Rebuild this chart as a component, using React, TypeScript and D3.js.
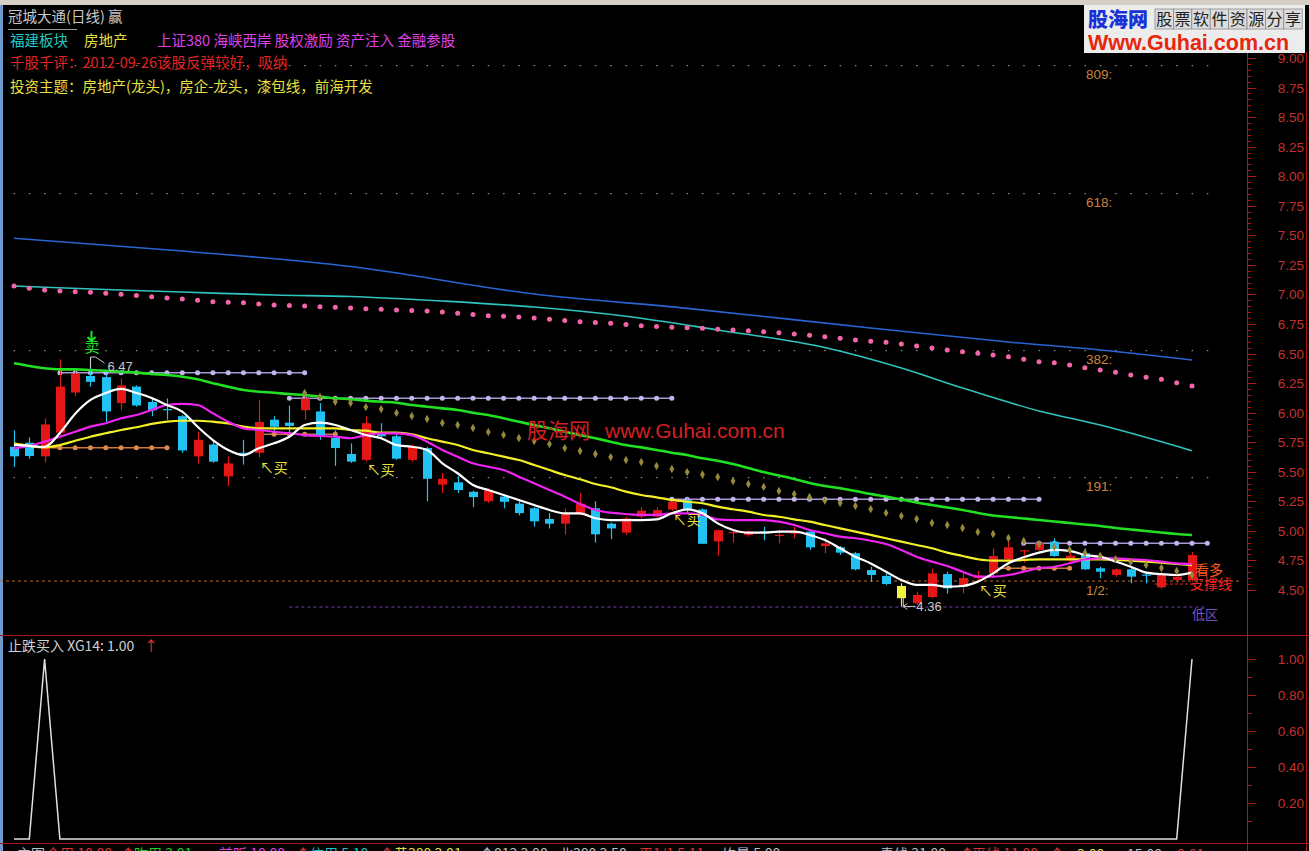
import { scaleLinear, line, curveMonotoneX, range, symbol, symbolDiamond } from "d3";

// daily candles, oldest first
const candleOpen = [5.71, 5.745, 5.63, 5.83, 6.17, 6.31, 6.30, 6.08, 6.22, 6.09, 6.03, 5.97, 5.63, 5.73, 5.46, 5.66, 5.66, 5.94, 5.915, 6.02, 6.01, 5.785, 5.65, 5.60, 5.825, 5.80, 5.60, 5.70, 5.39, 5.41, 5.33, 5.25, 5.29, 5.23, 5.19, 5.10, 5.06, 5.15, 5.19, 5.06, 4.985, 5.12, 5.12, 5.18, 5.26, 5.18, 4.91, 4.98, 4.965, 4.995, 4.96, 4.975, 4.993, 4.871, 4.86, 4.81, 4.668, 4.618, 4.533, 4.387, 4.44, 4.634, 4.527, 4.60, 4.64, 4.76, 4.83, 4.838, 4.908, 4.75, 4.81, 4.683, 4.626, 4.674, 4.63, 4.522, 4.584, 4.584];
const candleHigh = [5.85, 5.79, 5.95, 6.45, 6.35, 6.47, 6.33, 6.29, 6.23, 6.12, 6.12, 5.98, 5.84, 5.77, 5.63, 5.77, 6.11, 5.97, 6.06, 6.18, 6.08, 5.85, 5.74, 5.97, 5.91, 5.825, 5.73, 5.71, 5.49, 5.46, 5.34, 5.36, 5.30, 5.25, 5.20, 5.15, 5.19, 5.32, 5.25, 5.07, 5.12, 5.20, 5.20, 5.25, 5.28, 5.19, 5.01, 5.013, 5.00, 5.035, 5.007, 5.035, 5.00, 4.937, 4.87, 4.82, 4.696, 4.64, 4.556, 4.485, 4.68, 4.654, 4.64, 4.66, 4.85, 4.908, 4.838, 4.90, 4.937, 4.83, 4.85, 4.696, 4.68, 4.70, 4.654, 4.65, 4.63, 4.82];
const candleLow = [5.54, 5.61, 5.58, 5.81, 6.14, 6.22, 5.92, 6.02, 6.05, 5.97, 5.94, 5.66, 5.57, 5.576, 5.38, 5.56, 5.62, 5.83, 5.80, 5.94, 5.77, 5.55, 5.575, 5.585, 5.774, 5.60, 5.585, 5.25, 5.32, 5.32, 5.20, 5.235, 5.19, 5.13, 5.035, 5.02, 4.97, 5.13, 4.90, 4.93, 4.965, 5.105, 5.11, 5.17, 5.15, 4.89, 4.79, 4.90, 4.95, 4.92, 4.894, 4.937, 4.838, 4.81, 4.795, 4.665, 4.57, 4.54, 4.36, 4.372, 4.43, 4.47, 4.47, 4.58, 4.61, 4.74, 4.73, 4.83, 4.78, 4.73, 4.67, 4.598, 4.61, 4.556, 4.556, 4.51, 4.56, 4.57];
const candleClose = [5.63, 5.633, 5.90, 6.22, 6.33, 6.26, 6.01, 6.23, 6.06, 6.02, 6.02, 5.68, 5.77, 5.585, 5.57, 5.65, 5.92, 5.88, 5.887, 6.12, 5.80, 5.70, 5.585, 5.91, 5.80, 5.61, 5.71, 5.44, 5.44, 5.345, 5.285, 5.345, 5.245, 5.15, 5.08, 5.06, 5.15, 5.23, 4.97, 5.02, 5.105, 5.17, 5.175, 5.245, 5.175, 4.89, 5.005, 4.99, 4.993, 4.99, 4.966, 4.985, 4.86, 4.894, 4.815, 4.674, 4.626, 4.55, 4.43, 4.457, 4.64, 4.513, 4.60, 4.62, 4.787, 4.86, 4.835, 4.894, 4.787, 4.79, 4.674, 4.654, 4.674, 4.612, 4.626, 4.626, 4.612, 4.795];
const yellowCandle = 58;

// moving average lines, one value per candle
const whiteMA = [5.726, 5.718, 5.71, 5.827, 5.99, 6.107, 6.166, 6.20, 6.166, 6.124, 6.064, 6.008, 5.88, 5.768, 5.684, 5.641, 5.698, 5.74, 5.796, 5.895, 5.915, 5.895, 5.853, 5.81, 5.783, 5.726, 5.711, 5.684, 5.571, 5.487, 5.388, 5.345, 5.303, 5.261, 5.218, 5.176, 5.148, 5.148, 5.106, 5.091, 5.091, 5.091, 5.097, 5.148, 5.182, 5.148, 5.063, 5.007, 4.984, 4.984, 4.993, 4.993, 4.965, 4.922, 4.852, 4.781, 4.724, 4.654, 4.584, 4.542, 4.542, 4.527, 4.533, 4.57, 4.64, 4.725, 4.776, 4.815, 4.838, 4.83, 4.795, 4.781, 4.74, 4.696, 4.646, 4.634, 4.626, 4.646];
const magentaMA = [5.698, 5.718, 5.754, 5.796, 5.838, 5.881, 5.91, 5.952, 5.98, 6.022, 6.064, 6.073, 6.064, 5.994, 5.923, 5.867, 5.853, 5.838, 5.825, 5.81, 5.802, 5.796, 5.783, 5.81, 5.825, 5.825, 5.81, 5.754, 5.684, 5.627, 5.571, 5.542, 5.514, 5.458, 5.402, 5.345, 5.289, 5.227, 5.176, 5.153, 5.142, 5.134, 5.134, 5.148, 5.148, 5.134, 5.097, 5.091, 5.091, 5.091, 5.077, 5.049, 5.007, 4.979, 4.95, 4.937, 4.916, 4.888, 4.838, 4.781, 4.739, 4.702, 4.654, 4.612, 4.612, 4.626, 4.654, 4.683, 4.696, 4.725, 4.759, 4.767, 4.767, 4.759, 4.753, 4.739, 4.725, 4.719];
const yellowMA = [5.74, 5.718, 5.706, 5.726, 5.762, 5.796, 5.825, 5.853, 5.876, 5.904, 5.923, 5.931, 5.931, 5.923, 5.909, 5.881, 5.867, 5.867, 5.867, 5.867, 5.867, 5.867, 5.853, 5.847, 5.83, 5.83, 5.816, 5.783, 5.754, 5.726, 5.684, 5.656, 5.627, 5.599, 5.557, 5.514, 5.472, 5.436, 5.396, 5.368, 5.331, 5.303, 5.283, 5.261, 5.246, 5.233, 5.204, 5.182, 5.162, 5.134, 5.119, 5.097, 5.077, 5.049, 5.021, 4.993, 4.965, 4.937, 4.908, 4.88, 4.852, 4.815, 4.787, 4.759, 4.747, 4.747, 4.753, 4.759, 4.759, 4.759, 4.759, 4.759, 4.753, 4.747, 4.739, 4.73, 4.719, 4.71];
const greenMA = [6.417, 6.394, 6.375, 6.366, 6.366, 6.36, 6.354, 6.346, 6.338, 6.327, 6.318, 6.304, 6.282, 6.248, 6.219, 6.191, 6.177, 6.168, 6.157, 6.149, 6.135, 6.121, 6.113, 6.101, 6.092, 6.084, 6.064, 6.05, 6.036, 6.022, 5.999, 5.98, 5.952, 5.923, 5.895, 5.867, 5.838, 5.81, 5.783, 5.754, 5.726, 5.706, 5.684, 5.661, 5.641, 5.613, 5.593, 5.565, 5.531, 5.497, 5.468, 5.438, 5.404, 5.379, 5.36, 5.337, 5.311, 5.289, 5.265, 5.24, 5.218, 5.197, 5.176, 5.151, 5.129, 5.117, 5.104, 5.091, 5.079, 5.066, 5.053, 5.041, 5.024, 5.011, 4.998, 4.986, 4.973, 4.964];
const pinkDots = [7.071, 7.052, 7.037, 7.029, 7.023, 7.018, 7.009, 7.001, 6.991, 6.981, 6.970, 6.961, 6.950, 6.938, 6.934, 6.930, 6.919, 6.910, 6.906, 6.902, 6.896, 6.891, 6.885, 6.879, 6.874, 6.868, 6.864, 6.860, 6.851, 6.840, 6.830, 6.820, 6.815, 6.809, 6.800, 6.789, 6.779, 6.769, 6.762, 6.756, 6.745, 6.735, 6.728, 6.722, 6.717, 6.713, 6.706, 6.699, 6.692, 6.684, 6.675, 6.665, 6.654, 6.642, 6.629, 6.614, 6.604, 6.595, 6.580, 6.563, 6.547, 6.530, 6.515, 6.502, 6.487, 6.473, 6.451, 6.431, 6.422, 6.403, 6.380, 6.360, 6.341, 6.318, 6.299, 6.282, 6.253, 6.225];
const goldStart = 19;
const goldDots = [6.166, 6.132, 6.092, 6.081, 6.047, 6.03, 5.997, 5.971, 5.946, 5.912, 5.895, 5.87, 5.836, 5.811, 5.785, 5.76, 5.734, 5.70, 5.675, 5.65, 5.624, 5.599, 5.582, 5.548, 5.523, 5.497, 5.476, 5.455, 5.421, 5.396, 5.371, 5.337, 5.311, 5.286, 5.256, 5.235, 5.21, 5.184, 5.151, 5.125, 5.10, 5.066, 5.049, 5.024, 4.99, 4.973, 4.939, 4.914, 4.888, 4.863, 4.838, 4.812, 4.787, 4.761, 4.736, 4.711, 4.685, 4.66, 4.626];

// long averages read at a few candles
const blueIdx = [0, 11, 22, 34, 44, 56, 65, 71, 77];
const blueVal = [7.475, 7.367, 7.236, 7.003, 6.882, 6.716, 6.597, 6.53, 6.445];
const cyanIdx = [0, 6, 11, 17, 22, 28, 34, 40, 46, 53, 58, 62, 67, 71, 77];
const cyanVal = [7.071, 7.041, 7.02, 6.995, 6.982, 6.944, 6.893, 6.815, 6.699, 6.551, 6.377, 6.208, 6.014, 5.895, 5.678];

// horizontal levels
const lavenderLevel = [6.338, 6.121, 5.266, 4.894];
const lavenderFrom = [3, 18, 43, 66];
const lavenderTo = [19, 43, 67, 78];
const orangeLevel = [5.703, 5.816, 4.683];
const orangeFrom = [2, 16, 64];
const orangeTo = [10, 21, 69];
const fibLevel = [8.94, 7.86, 6.53, 5.455];
const fibLabel = ["809:", "618:", "382:", "191:"];
const halfLevel = 4.575;
const lowLevel = 4.355;

// signals
const buyIdx = [16, 23, 43, 63];
const buyLevel = [5.53, 5.515, 5.09, 4.49];
const sellIdx = 5;
const highIdx = 5;
const highVal = 6.47;
const lowIdx = 58;
const lowVal = 4.36;

// lower panel
const xg14 = [0, 0, 1, 0, 0, 0, 0, 0, 0, 0, 0, 0, 0, 0, 0, 0, 0, 0, 0, 0, 0, 0, 0, 0, 0, 0, 0, 0, 0, 0, 0, 0, 0, 0, 0, 0, 0, 0, 0, 0, 0, 0, 0, 0, 0, 0, 0, 0, 0, 0, 0, 0, 0, 0, 0, 0, 0, 0, 0, 0, 0, 0, 0, 0, 0, 0, 0, 0, 0, 0, 0, 0, 0, 0, 0, 0, 0, 1];

const priceTicks = [9, 8.75, 8.5, 8.25, 8, 7.75, 7.5, 7.25, 7, 6.75, 6.5, 6.25, 6, 5.75, 5.5, 5.25, 5, 4.75, 4.5];
const subTicks = [1, 0.8, 0.6, 0.4, 0.2];

const footerText = ["主图", "合用 10.00", "↑", "昨用 2.01", "前販 10.00", "↑", "信用 5.10", "↑", "黄380 3.01", "↑012 3.00", "北380 3.50", "平1/1 5.11", "均量 5.00", "青线 21.00", "↑", "平线 11.00", "↑", "3.00", "15.00", "0.01"];
const footerColor = ["#c0c0c0", "#e03030", "#e03030", "#20d020", "#e040e0", "#e03030", "#20c0c0", "#e03030", "#e0e040", "#c0c0c0", "#c0c0c0", "#e03030", "#c0c0c0", "#c0c0c0", "#e03030", "#e03030", "#e03030", "#e0e040", "#c0c0c0", "#e03030"];
const footerX = [17, 46, 121, 134, 219, 296, 310, 380, 394, 480, 559, 639, 722, 880, 960, 972, 1050, 1077, 1127, 1177];

const CJK = '"Noto Sans CJK SC", sans-serif';
const NUM = '"Liberation Sans", Arial, sans-serif';

export default function App() {
  const x = scaleLinear().domain([0, 77]).range([14, 1192]);
  const y = scaleLinear().domain([4.5, 9]).range([589.9, 58]);
  const ys = scaleLinear().domain([0, 1]).range([839, 659]);

  const maPath = (vals: number[], start = 0) =>
    line<number>().x((_, i) => x(i + start)).y(v => y(v)).curve(curveMonotoneX)(vals) || "";
  const samplePath = (idx: number[], vals: number[]) =>
    line<number>().x((_, i) => x(idx[i])).y(v => y(v)).curve(curveMonotoneX)(vals) || "";
  const subPath = line<number>().x((_, i) => x(i)).y(v => ys(v))(xg14) || "";
  const diamond = symbol(symbolDiamond, 20)() || "";

  const rowIdx = range(0, 79);

  const candles = candleOpen.map((o, i) => {
    const c = candleClose[i];
    const col = i === yellowCandle ? "#f4f040" : c >= o ? "#e41616" : "#22c2f2";
    const top = y(Math.max(o, c));
    const bot = y(Math.min(o, c));
    const cx = Math.round(x(i)) + 0.5;
    return (
      <g key={i}>
        <line x1={cx} x2={cx} y1={y(candleHigh[i])} y2={y(candleLow[i])} stroke={col} strokeWidth={1.2} />
        <rect x={cx - 4.5} y={top} width={9} height={Math.max(1.2, bot - top)} fill={col} />
      </g>
    );
  });

  const hx = x(highIdx), hy = y(highVal);
  const lx = x(lowIdx) + 2, ly = y(lowVal);

  return (
    <svg width={1309} height={851} style={{ position: "fixed", left: 0, top: 0, background: "#000", display: "block" }}>
      <rect x={0} y={0} width={1309} height={851} fill="#000" />
      <rect x={0} y={0} width={1309} height={5} fill="#d4d0c8" />
      <rect x={0} y={5} width={3} height={846} fill="#6f9ccc" />

      {/* grey dotted fib rows */}
      {fibLevel.map((lv, k) => (
        <g key={"f" + k}>
          {rowIdx.map(i => (
            <rect key={i} x={x(i) - 0.5} y={Math.round(y(lv))} width={1.5} height={1.2} fill="#8c8c8c" />
          ))}
          <text x={1086} y={y(lv) + 14} fontFamily={NUM} fontSize={13.5} fill="#c8843c">{fibLabel[k]}</text>
        </g>
      ))}

      {/* half and low zone */}
      <line x1={0} x2={1240} y1={y(halfLevel)} y2={y(halfLevel)} stroke="#b8692e" strokeWidth={1} strokeDasharray="3 3" />
      <text x={1086} y={y(halfLevel) + 14} fontFamily={NUM} fontSize={13.5} fill="#c8843c">1/2:</text>
      <line x1={x(18)} x2={x(78)} y1={y(lowLevel)} y2={y(lowLevel)} stroke="#7442b4" strokeWidth={1} strokeDasharray="3 3" />
      <text x={1192} y={y(lowLevel) + 12} fontFamily={CJK} fontSize={13} fill="#7c52c4">低区</text>

      {/* long averages */}
      <path d={samplePath(blueIdx, blueVal)} fill="none" stroke="#2a64d4" strokeWidth={1.6} />
      <path d={samplePath(cyanIdx, cyanVal)} fill="none" stroke="#30c4c0" strokeWidth={1.6} />
      {pinkDots.map((v, i) => (
        <circle key={"p" + i} cx={x(i)} cy={y(v)} r={2.5} fill="#f464a8" />
      ))}

      {/* lavender and orange levels */}
      {lavenderLevel.map((lv, k) => (
        <g key={"l" + k}>
          <line x1={x(lavenderFrom[k])} x2={x(lavenderTo[k])} y1={y(lv)} y2={y(lv)} stroke="#a898d0" strokeWidth={1.5} />
          {range(lavenderFrom[k], lavenderTo[k] + 1).map(i => (
            <circle key={i} cx={x(i)} cy={y(lv)} r={2.5} fill="#c4b4ee" />
          ))}
        </g>
      ))}
      {orangeLevel.map((lv, k) => (
        <g key={"o" + k}>
          <line x1={x(orangeFrom[k])} x2={x(orangeTo[k])} y1={y(lv)} y2={y(lv)} stroke="#d07840" strokeWidth={1.5} />
          {range(orangeFrom[k], orangeTo[k] + 1).map(i => (
            <circle key={i} cx={x(i)} cy={y(lv)} r={2.5} fill="#e08850" />
          ))}
        </g>
      ))}

      {candles}

      {/* moving averages */}
      <path d={maPath(greenMA)} fill="none" stroke="#22e022" strokeWidth={2.6} />
      <path d={maPath(yellowMA)} fill="none" stroke="#f4f028" strokeWidth={2.2} />
      <path d={maPath(magentaMA)} fill="none" stroke="#f024f0" strokeWidth={2.2} />
      <path d={maPath(whiteMA)} fill="none" stroke="#ffffff" strokeWidth={2.2} />
      {goldDots.map((v, i) => (
        <path key={"g" + i} d={diamond} transform={`translate(${x(i + goldStart)},${y(v)})`} fill="#968a3a" />
      ))}

      {/* support mark */}
      <line x1={1155} x2={1196} y1={y(halfLevel) + 3} y2={y(halfLevel) + 3} stroke="#ff2020" strokeWidth={1} strokeDasharray="3 2" />
      <text x={1195} y={575} fontFamily={CJK} fontSize={14} fill="#ff5a20">看多</text>
      <text x={1190} y={589} fontFamily={CJK} fontSize={14} fill="#ff2020">支撑线</text>

      {/* signals */}
      {buyIdx.map((b, k) => (
        <text key={"b" + k} x={x(b) + 1} y={y(buyLevel[k]) + 5} fontFamily={CJK} fontSize={14} fill="#e8e040">↖买</text>
      ))}
      <path d={`M${x(sellIdx) + 1},331 V341 M${x(sellIdx) - 3},337 L${x(sellIdx) + 1},341 L${x(sellIdx) + 5},337`} stroke="#22e022" strokeWidth={2} fill="none" />
      <text x={x(sellIdx) - 6} y={352} fontFamily={CJK} fontSize={15} fill="#22e022">卖</text>
      <path d={`M${hx},${hy + 11} V${hy} H${hx + 5} L${hx + 14},${hy + 6}`} stroke="#c8c8c8" fill="none" />
      <text x={hx + 17} y={hy + 14} fontFamily={NUM} fontSize={13} fill="#c8c8c8">6.47</text>
      <path d={`M${lx},${ly - 9} V${ly} H${lx + 12} M${lx + 4},${ly - 3} L${lx},${ly} L${lx + 4},${ly + 3}`} stroke="#c8c8c8" fill="none" />
      <text x={lx + 13} y={ly + 5} fontFamily={NUM} fontSize={13} fill="#c8c8c8">4.36</text>

      {/* watermark */}
      <text x={527} y={438} fontFamily={CJK} fontSize={21} fill="#d42020">股海网</text>
      <text x={605} y={438} fontFamily={NUM} fontSize={21} fill="#d42020">www.Guhai.com.cn</text>

      {/* header */}
      <text x={8} y={22} fontFamily={CJK} fontSize={14.5} fill="#c8c8c8">冠城大通(日线) 赢</text>
      <line x1={8} x2={77} y1={29.5} y2={29.5} stroke="#9a9a9a" />
      <text x={10} y={45.5} fontFamily={CJK} fontSize={14.5} fill="#22c8c8">福建板块</text>
      <text x={84} y={45.5} fontFamily={CJK} fontSize={14.5} fill="#e8e040">房地产</text>
      <text x={157} y={45.5} fontFamily={CJK} fontSize={14.5} fill="#e040e8">上证380 海峡西岸 股权激励 资产注入 金融参股</text>
      <text x={10} y={67.5} fontFamily={CJK} fontSize={14.5} fill="#e02424">千股千评：2012-09-26该股反弹较好，吸纳</text>
      <text x={10} y={91.5} fontFamily={CJK} fontSize={14.5} fill="#e8e040">投资主题：房地产(龙头)，房企-龙头，漆包线，前海开发</text>

      {/* frame */}
      <line x1={1247.5} x2={1247.5} y1={52} y2={851} stroke="#b01818" />
      <line x1={1306.5} x2={1306.5} y1={52} y2={851} stroke="#b01818" />
      <line x1={0} x2={1309} y1={635.5} y2={635.5} stroke="#b01818" />
      <line x1={0} x2={1309} y1={843.5} y2={843.5} stroke="#b01818" />

      {/* price axis */}
      {range(4.5, 9.001, 0.05).map((v, i) => (
        <line key={"m" + i} x1={1248} x2={1251} y1={Math.round(y(v)) + 0.5} y2={Math.round(y(v)) + 0.5} stroke="#b01818" />
      ))}
      {priceTicks.map(v => (
        <g key={"t" + v}>
          <line x1={1248} x2={1256} y1={Math.round(y(v)) + 0.5} y2={Math.round(y(v)) + 0.5} stroke="#b01818" />
          <text x={1304} y={y(v) + 5} textAnchor="end" fontFamily={NUM} fontSize={13.5} fill="#c43030">{v.toFixed(2)}</text>
        </g>
      ))}

      {/* lower panel */}
      <text x={8} y={651} fontFamily={CJK} fontSize={14} fill="#d0d0d0">止跌买入 XG14: 1.00</text>
      <text x={144} y={651} fontFamily={CJK} fontSize={14} fill="#ff3030">↑</text>
      <path d={subPath} fill="none" stroke="#e0e0e0" strokeWidth={1.5} />
      {range(0.1, 1.001, 0.1).map((v, i) => (
        <line key={"sm" + i} x1={1248} x2={1252} y1={Math.round(ys(v)) + 0.5} y2={Math.round(ys(v)) + 0.5} stroke="#b01818" />
      ))}
      {subTicks.map(v => (
        <g key={"s" + v}>
          <line x1={1248} x2={1256} y1={Math.round(ys(v)) + 0.5} y2={Math.round(ys(v)) + 0.5} stroke="#b01818" />
          <text x={1304} y={ys(v) + 5} textAnchor="end" fontFamily={NUM} fontSize={13.5} fill="#c43030">{v.toFixed(2)}</text>
        </g>
      ))}

      {/* footer, cut by window */}
      {footerText.map((t, i) => (
        <text key={"ft" + i} x={footerX[i]} y={859} fontFamily={CJK} fontSize={14} fill={footerColor[i]}>{t}</text>
      ))}

      {/* logo */}
      <rect x={1084} y={5} width={221} height={48} fill="#ececec" />
      <text x={1088} y={27} fontFamily={CJK} fontSize={20} fontWeight={900} fill="#1632d8">股海网</text>
      {"股票软件资源分享".split("").map((ch, i) => (
        <g key={"lg" + i}>
          <rect x={1155 + i * 18.4} y={9} width={18.4} height={20} fill="#dcdcdc" stroke="#8a8a8a" strokeWidth={0.8} />
          <text x={1155 + i * 18.4 + 9.2} y={25} textAnchor="middle" fontFamily={CJK} fontSize={16} fill="#222">{ch}</text>
        </g>
      ))}
      <text x={1088} y={50} fontFamily={NUM} fontSize={21.5} fontWeight={700} fill="#e8260e">Www.Guhai.com.cn</text>
    </svg>
  );
}
